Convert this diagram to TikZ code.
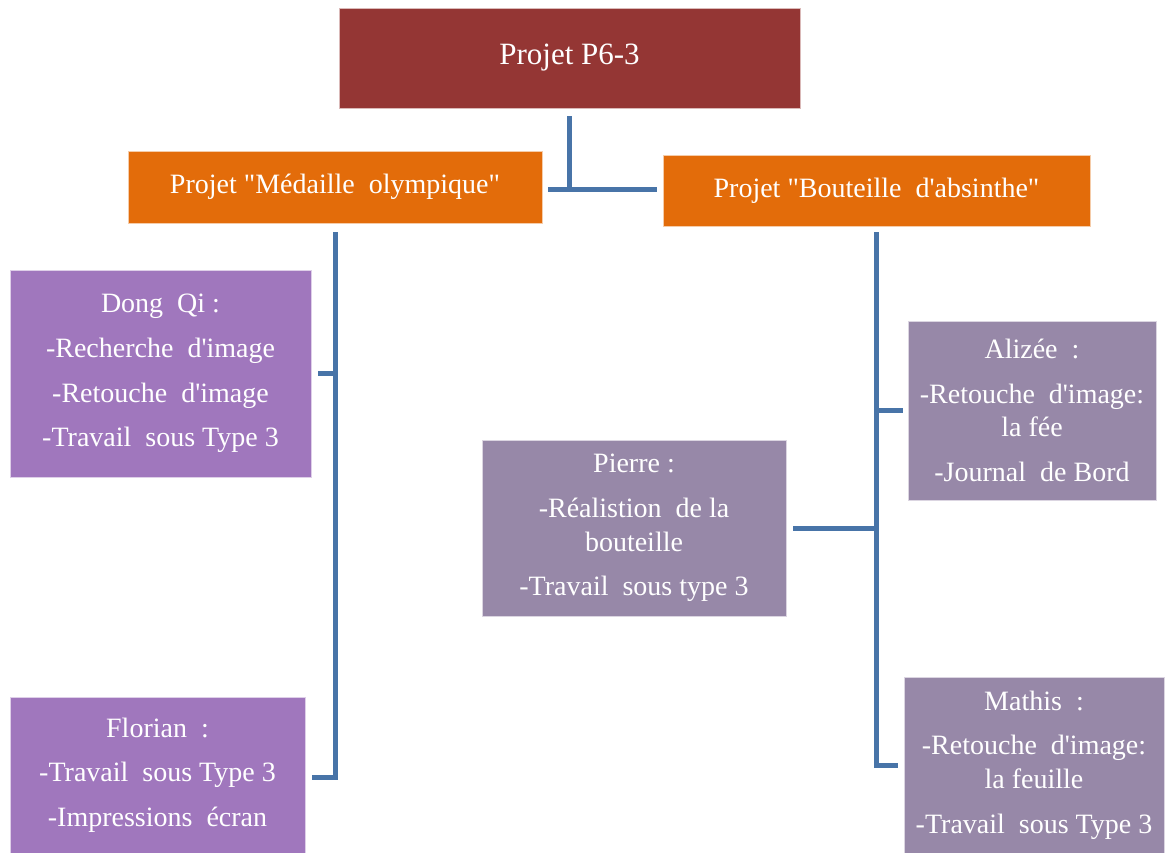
\documentclass[tikz,border=0pt]{standalone}
\usepackage{fontspec}
\setmainfont{Liberation Serif}
\newfontfamily\boxfont{Liberation Serif}[Ligatures=TeXOff]
\definecolor{topred}{RGB}{148,54,52}
\definecolor{projorange}{RGB}{227,108,10}
\definecolor{lilac}{RGB}{160,119,189}
\definecolor{greylilac}{RGB}{151,136,168}
\definecolor{linkblue}{RGB}{72,116,168}
\tikzset{
  box/.style={rectangle, inner sep=0pt, fill=#1, draw=white!65!#1, line width=0.8pt,
    text=white, align=center, font=\boxfont\fontsize{28}{33.6}\selectfont},
  link/.style={draw=linkblue, line width=5pt},
}
\begin{document}
\begin{tikzpicture}[x=1pt,y=-1pt]
  \useasboundingbox (0,0) rectangle (1169,852);
  \clip (0,0) rectangle (1169,852);

  % root and the two projects
  \node[box=topred, minimum width=461pt, minimum height=100pt,
        font=\boxfont\fontsize{31}{37}\selectfont] (top) at (569.5,58) {Projet P6-3};
  \node[box=projorange, minimum width=414pt, minimum height=72pt] (medal) at (335,187)
    {Projet "Médaille~ olympique"};
  \node[box=projorange, minimum width=427pt, minimum height=71pt] (bottle) at (876.5,190.5)
    {Projet "Bouteille~ d'absinthe"};

  % members of the medal project
  \node[box=lilac, minimum width=301pt, minimum height=207pt] (dongqi) at (160.5,373.5)
    {Dong~ Qi :\\[11pt] -Recherche~ d'image\\[11pt] -Retouche~ d'image\\[11pt] -Travail~ sous Type 3};
  \node[box=lilac, minimum width=295pt, minimum height=160pt, text depth=10pt] (florian) at (157.5,777)
    {Florian~ :\\[11pt] -Travail~ sous Type 3\\[11pt] -Impressions~ écran};

  % members of the bottle project
  \node[box=greylilac, minimum width=304pt, minimum height=176pt] (pierre) at (634,528)
    {Pierre :\\[11pt] -Réalistion~ de la\\ bouteille\\[11pt] -Travail~ sous type 3};
  \node[box=greylilac, minimum width=248pt, minimum height=179pt] (alizee) at (1032,410.5)
    {Alizée~ :\\[11pt] -Retouche~ d'image:\\ la fée\\[11pt] -Journal~ de Bord};
  \node[box=greylilac, minimum width=260pt, minimum height=176pt] (mathis) at (1034,765)
    {Mathis~ :\\[11pt] -Retouche~ d'image:\\ la feuille\\[11pt] -Travail~ sous Type 3};

  % connectors
  \coordinate (hub) at (569.5,189);
  \draw[link, shorten <=8pt] (top.south) -- (hub);
  \draw[link, shorten <=6pt, shorten >=6pt] (medal.east |- hub) -- (bottle.west |- hub);

  \draw[link, shorten <=9pt, shorten >=7pt] (medal.south) |- (florian.east);
  \draw[link, shorten >=7pt] (medal.south |- dongqi.east) -- (dongqi.east);

  \draw[link, shorten <=6pt, shorten >=6pt] (bottle.south) |- (mathis.west);
  \draw[link, shorten >=5pt] (bottle.south |- alizee.west) -- (alizee.west);
  \draw[link, shorten >=7pt] (bottle.south |- pierre.east) -- (pierre.east);
\end{tikzpicture}
\end{document}
